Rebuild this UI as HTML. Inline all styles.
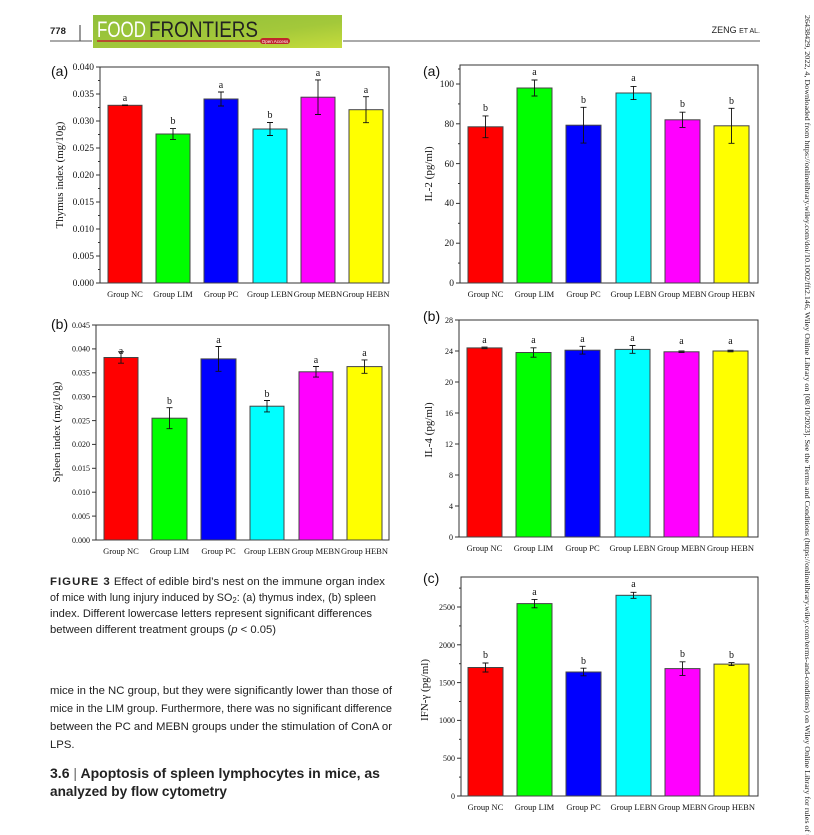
<!DOCTYPE html>
<html><head><meta charset="utf-8"><style>
html,body{margin:0;padding:0;background:#fff;}
svg{display:block;}
.t{font-family:"Liberation Serif",serif;font-size:10px;fill:#111;}
.xl{font-family:"Liberation Serif",serif;font-size:8.5px;fill:#111;text-anchor:middle;}
.yl{font-family:"Liberation Serif",serif;font-size:9.5px;fill:#111;text-anchor:end;}
.lt{font-family:"Liberation Serif",serif;font-size:10px;fill:#111;text-anchor:middle;}
.pl{font-family:"Liberation Sans",sans-serif;font-size:14px;fill:#111;}
.ax{font-family:"Liberation Serif",serif;font-size:11px;fill:#111;text-anchor:middle;}
.bar{stroke:#444;stroke-width:1;}
.e{stroke:#111;stroke-width:0.9;fill:none;}
.fr{fill:none;stroke:#333;stroke-width:1;}
.tk{stroke:#333;stroke-width:1;}
.cap{font-family:"Liberation Sans",sans-serif;font-size:11px;fill:#222;}
.bd{font-family:"Liberation Sans",sans-serif;font-size:11.3px;fill:#222;}
.hd{font-family:"Liberation Sans",sans-serif;font-size:14px;font-weight:bold;fill:#222;}
</style></head><body>
<svg width="814" height="835" viewBox="0 0 814 835" xmlns="http://www.w3.org/2000/svg">
<defs>
<linearGradient id="g" x1="0" y1="0" x2="1" y2="1">
<stop offset="0" stop-color="#8fbf3a"/><stop offset="0.6" stop-color="#a3c83a"/><stop offset="1" stop-color="#c6dc3c"/>
</linearGradient>
</defs>
<!-- header -->
<text x="50" y="34" font-family="Liberation Sans,sans-serif" font-size="9.5px" font-weight="bold" fill="#222">778</text>
<line x1="80" y1="25" x2="80" y2="41" stroke="#333" stroke-width="1"/>
<line x1="50" y1="41" x2="92" y2="41" stroke="#555" stroke-width="1"/>
<rect x="93" y="15" width="249" height="33" fill="url(#g)"/>
<text x="97" y="37" font-family="Liberation Sans,sans-serif" font-size="22px" fill="#fff" textLength="49" lengthAdjust="spacingAndGlyphs">FOOD</text>
<text x="149" y="37" font-family="Liberation Sans,sans-serif" font-size="22px" fill="#222" textLength="109" lengthAdjust="spacingAndGlyphs">FRONTIERS</text>
<line x1="97" y1="41" x2="262" y2="41" stroke="#c0262c" stroke-width="1.6"/>
<rect x="260" y="38" width="30" height="6" rx="3" fill="#c0262c"/>
<text x="275" y="43" font-family="Liberation Sans,sans-serif" font-size="4.5px" fill="#fff" text-anchor="middle">Open Access</text>
<line x1="343" y1="41" x2="760" y2="41" stroke="#555" stroke-width="1"/>
<text x="760" y="33" font-family="Liberation Sans,sans-serif" font-size="9px" fill="#222" text-anchor="end">ZENG <tspan font-size="7px">ET AL.</tspan></text>
<!-- sidebar -->
<text transform="translate(805,15) rotate(90)" font-family="Liberation Serif,serif" font-size="7.3px" fill="#222" textLength="830" lengthAdjust="spacingAndGlyphs">26438429, 2022, 4, Downloaded from https://onlinelibrary.wiley.com/doi/10.1002/fft2.146, Wiley Online Library on [08/10/2023]. See the Terms and Conditions (https://onlinelibrary.wiley.com/terms-and-conditions) on Wiley Online Library for rules of use</text>

<!-- Chart A thymus -->
<g>
<text class="pl" x="51" y="76">(a)</text>
<rect class="fr" x="100" y="67" width="289" height="216"/>
<g class="tk">
<line x1="96" y1="283" x2="100" y2="283"/><line x1="96" y1="256" x2="100" y2="256"/><line x1="96" y1="229" x2="100" y2="229"/><line x1="96" y1="202" x2="100" y2="202"/><line x1="96" y1="175" x2="100" y2="175"/><line x1="96" y1="148" x2="100" y2="148"/><line x1="96" y1="121" x2="100" y2="121"/><line x1="96" y1="94" x2="100" y2="94"/><line x1="96" y1="67" x2="100" y2="67"/>
<line x1="98" y1="269.5" x2="100" y2="269.5"/><line x1="98" y1="242.5" x2="100" y2="242.5"/><line x1="98" y1="215.5" x2="100" y2="215.5"/><line x1="98" y1="188.5" x2="100" y2="188.5"/><line x1="98" y1="161.5" x2="100" y2="161.5"/><line x1="98" y1="134.5" x2="100" y2="134.5"/><line x1="98" y1="107.5" x2="100" y2="107.5"/><line x1="98" y1="80.5" x2="100" y2="80.5"/>
</g>
<text class="yl" x="94" y="286">0.000</text><text class="yl" x="94" y="259">0.005</text><text class="yl" x="94" y="232">0.010</text><text class="yl" x="94" y="205">0.015</text><text class="yl" x="94" y="178">0.020</text><text class="yl" x="94" y="151">0.025</text><text class="yl" x="94" y="124">0.030</text><text class="yl" x="94" y="97">0.035</text><text class="yl" x="94" y="70">0.040</text>
<text class="ax" transform="translate(63,175) rotate(-90)">Thymus index (mg/10g)</text>
<rect class="bar" x="108" y="105.3" width="34" height="177.7" fill="#ff0000"/>
<rect class="bar" x="156" y="134" width="34" height="149" fill="#00ff00"/>
<rect class="bar" x="204" y="99" width="34" height="184" fill="#0000ff"/>
<rect class="bar" x="253" y="129" width="34" height="154" fill="#00ffff"/>
<rect class="bar" x="301" y="97.2" width="34" height="185.8" fill="#ff00ff"/>
<rect class="bar" x="349" y="109.7" width="34" height="173.3" fill="#ffff00"/>
<path class="e" d="M122 105h6M125 105v0.5M122 105.6h6 M170 128.6h6M173 128.6v10.8M170 139.4h6 M218 92h6M221 92v14M218 106h6 M267 122.5h6M270 122.5v13M267 135.5h6 M315 79.9h6M318 79.9v34.6M315 114.5h6 M363 96.7h6M366 96.7v26M363 122.7h6"/>
<text class="lt" x="125" y="101">a</text><text class="lt" x="173" y="124">b</text><text class="lt" x="221" y="88">a</text><text class="lt" x="270" y="118">b</text><text class="lt" x="318" y="76">a</text><text class="lt" x="366" y="93">a</text>
<text class="xl" x="125" y="297">Group NC</text><text class="xl" x="173" y="297">Group LIM</text><text class="xl" x="221" y="297">Group PC</text><text class="xl" x="270" y="297">Group LEBN</text><text class="xl" x="318" y="297">Group MEBN</text><text class="xl" x="366" y="297">Group HEBN</text>
</g>

<!-- Chart B spleen -->
<g>
<text class="pl" x="51" y="329">(b)</text>
<rect class="fr" x="96" y="325" width="293" height="215"/>
<g class="tk">
<line x1="92" y1="540" x2="96" y2="540"/><line x1="92" y1="516.1" x2="96" y2="516.1"/><line x1="92" y1="492.2" x2="96" y2="492.2"/><line x1="92" y1="468.3" x2="96" y2="468.3"/><line x1="92" y1="444.4" x2="96" y2="444.4"/><line x1="92" y1="420.6" x2="96" y2="420.6"/><line x1="92" y1="396.7" x2="96" y2="396.7"/><line x1="92" y1="372.8" x2="96" y2="372.8"/><line x1="92" y1="348.9" x2="96" y2="348.9"/><line x1="92" y1="325" x2="96" y2="325"/>
</g>
<g font-size="8px"><text class="yl" x="90" y="543" style="font-size:8px">0.000</text><text class="yl" x="90" y="519" style="font-size:8px">0.005</text><text class="yl" x="90" y="495" style="font-size:8px">0.010</text><text class="yl" x="90" y="471" style="font-size:8px">0.015</text><text class="yl" x="90" y="447" style="font-size:8px">0.020</text><text class="yl" x="90" y="423.5" style="font-size:8px">0.025</text><text class="yl" x="90" y="399.5" style="font-size:8px">0.030</text><text class="yl" x="90" y="375.5" style="font-size:8px">0.035</text><text class="yl" x="90" y="351.5" style="font-size:8px">0.040</text><text class="yl" x="90" y="328" style="font-size:8px">0.045</text></g>
<text class="ax" transform="translate(60,432) rotate(-90)">Spleen index (mg/10g)</text>
<rect class="bar" x="104" y="357.5" width="34" height="182.5" fill="#ff0000"/>
<rect class="bar" x="152" y="418.2" width="35" height="121.8" fill="#00ff00"/>
<rect class="bar" x="201" y="358.9" width="35" height="181.1" fill="#0000ff"/>
<rect class="bar" x="250" y="406.2" width="34" height="133.8" fill="#00ffff"/>
<rect class="bar" x="299" y="371.8" width="34" height="168.2" fill="#ff00ff"/>
<rect class="bar" x="347" y="366.6" width="35" height="173.4" fill="#ffff00"/>
<path class="e" d="M118 351.8h6M121 351.8v11.4M118 363.2h6 M166.5 407.7h6M169.5 407.7v21M166.5 428.7h6 M215.5 346.5h6M218.5 346.5v24.8M215.5 371.3h6 M264 400.5h6M267 400.5v11.4M264 411.9h6 M313 366.5h6M316 366.5v10.6M313 377.1h6 M361.5 359.9h6M364.5 359.9v13.4M361.5 373.3h6"/>
<text class="lt" x="121" y="354">a</text><text class="lt" x="169.5" y="404">b</text><text class="lt" x="218.5" y="343">a</text><text class="lt" x="267" y="397">b</text><text class="lt" x="316" y="363">a</text><text class="lt" x="364.5" y="356">a</text>
<text class="xl" x="121" y="554">Group NC</text><text class="xl" x="169.5" y="554">Group LIM</text><text class="xl" x="218.5" y="554">Group PC</text><text class="xl" x="267" y="554">Group LEBN</text><text class="xl" x="316" y="554">Group MEBN</text><text class="xl" x="364.5" y="554">Group HEBN</text>
</g>

<!-- Right a IL-2 -->
<g>
<text class="pl" x="423" y="76">(a)</text>
<rect class="fr" x="460" y="65" width="298" height="218"/>
<g class="tk">
<line x1="456" y1="283" x2="460" y2="283"/><line x1="456" y1="243.2" x2="460" y2="243.2"/><line x1="456" y1="203.4" x2="460" y2="203.4"/><line x1="456" y1="163.6" x2="460" y2="163.6"/><line x1="456" y1="123.8" x2="460" y2="123.8"/><line x1="456" y1="84" x2="460" y2="84"/>
<line x1="458" y1="263.1" x2="460" y2="263.1"/><line x1="458" y1="223.3" x2="460" y2="223.3"/><line x1="458" y1="183.5" x2="460" y2="183.5"/><line x1="458" y1="143.7" x2="460" y2="143.7"/><line x1="458" y1="103.9" x2="460" y2="103.9"/><line x1="458" y1="69" x2="460" y2="69"/>
</g>
<text class="yl" x="454" y="286">0</text><text class="yl" x="454" y="246">20</text><text class="yl" x="454" y="206">40</text><text class="yl" x="454" y="167">60</text><text class="yl" x="454" y="127">80</text><text class="yl" x="454" y="87">100</text>
<text class="ax" transform="translate(432,174) rotate(-90)">IL-2 (pg/ml)</text>
<rect class="bar" x="468" y="126.8" width="35" height="156.2" fill="#ff0000"/>
<rect class="bar" x="517" y="88" width="35" height="195" fill="#00ff00"/>
<rect class="bar" x="566" y="125.2" width="35" height="157.8" fill="#0000ff"/>
<rect class="bar" x="616" y="93" width="35" height="190" fill="#00ffff"/>
<rect class="bar" x="665" y="119.8" width="35" height="163.2" fill="#ff00ff"/>
<rect class="bar" x="714" y="125.8" width="35" height="157.2" fill="#ffff00"/>
<path class="e" d="M482.5 115.9h6M485.5 115.9v21.8M482.5 137.7h6 M531.5 80h6M534.5 80v16M531.5 96h6 M580.5 107.3h6M583.5 107.3v35.8M580.5 143.1h6 M630.5 86.4h6M633.5 86.4v13.2M630.5 99.6h6 M679.5 112.2h6M682.5 112.2v15.2M679.5 127.4h6 M728.5 108.3h6M731.5 108.3v35M728.5 143.3h6"/>
<text class="lt" x="485.5" y="111">b</text><text class="lt" x="534.5" y="75">a</text><text class="lt" x="583.5" y="103">b</text><text class="lt" x="633.5" y="81">a</text><text class="lt" x="682.5" y="107">b</text><text class="lt" x="731.5" y="104">b</text>
<text class="xl" x="485.5" y="297">Group NC</text><text class="xl" x="534.5" y="297">Group LIM</text><text class="xl" x="583.5" y="297">Group PC</text><text class="xl" x="633.5" y="297">Group LEBN</text><text class="xl" x="682.5" y="297">Group MEBN</text><text class="xl" x="731.5" y="297">Group HEBN</text>
</g>

<!-- Right b IL-4 -->
<g>
<text class="pl" x="423" y="321">(b)</text>
<rect class="fr" x="459" y="320" width="299" height="217"/>
<g class="tk">
<line x1="455" y1="537" x2="459" y2="537"/><line x1="455" y1="506" x2="459" y2="506"/><line x1="455" y1="475" x2="459" y2="475"/><line x1="455" y1="444" x2="459" y2="444"/><line x1="455" y1="413" x2="459" y2="413"/><line x1="455" y1="382" x2="459" y2="382"/><line x1="455" y1="351" x2="459" y2="351"/><line x1="455" y1="320" x2="459" y2="320"/>
</g>
<g><text class="yl" x="453" y="540" style="font-size:8px">0</text><text class="yl" x="453" y="509" style="font-size:8px">4</text><text class="yl" x="453" y="478" style="font-size:8px">8</text><text class="yl" x="453" y="447" style="font-size:8px">12</text><text class="yl" x="453" y="416" style="font-size:8px">16</text><text class="yl" x="453" y="385" style="font-size:8px">20</text><text class="yl" x="453" y="354" style="font-size:8px">24</text><text class="yl" x="453" y="323" style="font-size:8px">28</text></g>
<text class="ax" transform="translate(432,430) rotate(-90)">IL-4 (pg/ml)</text>
<rect class="bar" x="467" y="347.9" width="35" height="189.1" fill="#ff0000"/>
<rect class="bar" x="516" y="352.5" width="35" height="184.5" fill="#00ff00"/>
<rect class="bar" x="565" y="350.2" width="35" height="186.8" fill="#0000ff"/>
<rect class="bar" x="615" y="349.4" width="35" height="187.6" fill="#00ffff"/>
<rect class="bar" x="664" y="351.8" width="35" height="185.2" fill="#ff00ff"/>
<rect class="bar" x="713" y="351" width="35" height="186" fill="#ffff00"/>
<path class="e" d="M481.5 347.1h6M481.5 348.7h6 M530.5 347.8h6M533.5 347.8v9.4M530.5 357.2h6 M579.5 346.3h6M582.5 346.3v7.8M579.5 354.1h6 M629.5 345.5h6M632.5 345.5v7.8M629.5 353.3h6 M678.5 351h6M678.5 352.6h6 M727.5 350.2h6M727.5 351.8h6"/>
<text class="lt" x="484.5" y="343">a</text><text class="lt" x="533.5" y="343">a</text><text class="lt" x="582.5" y="342">a</text><text class="lt" x="632.5" y="341">a</text><text class="lt" x="681.5" y="344">a</text><text class="lt" x="730.5" y="344">a</text>
<text class="xl" x="484.5" y="551">Group NC</text><text class="xl" x="533.5" y="551">Group LIM</text><text class="xl" x="582.5" y="551">Group PC</text><text class="xl" x="632.5" y="551">Group LEBN</text><text class="xl" x="681.5" y="551">Group MEBN</text><text class="xl" x="730.5" y="551">Group HEBN</text>
</g>

<!-- Right c IFN -->
<g>
<text class="pl" x="423" y="583">(c)</text>
<rect class="fr" x="461" y="577" width="297" height="219"/>
<g class="tk">
<line x1="457" y1="796" x2="461" y2="796"/><line x1="457" y1="758.2" x2="461" y2="758.2"/><line x1="457" y1="720.4" x2="461" y2="720.4"/><line x1="457" y1="682.6" x2="461" y2="682.6"/><line x1="457" y1="644.8" x2="461" y2="644.8"/><line x1="457" y1="607" x2="461" y2="607"/>
<line x1="459" y1="777.1" x2="461" y2="777.1"/><line x1="459" y1="739.3" x2="461" y2="739.3"/><line x1="459" y1="701.5" x2="461" y2="701.5"/><line x1="459" y1="663.7" x2="461" y2="663.7"/><line x1="459" y1="625.9" x2="461" y2="625.9"/><line x1="459" y1="588.1" x2="461" y2="588.1"/>
</g>
<g><text class="yl" x="455" y="799" style="font-size:8px">0</text><text class="yl" x="455" y="761" style="font-size:8px">500</text><text class="yl" x="455" y="723" style="font-size:8px">1000</text><text class="yl" x="455" y="685.5" style="font-size:8px">1500</text><text class="yl" x="455" y="648" style="font-size:8px">2000</text><text class="yl" x="455" y="610" style="font-size:8px">2500</text></g>
<text class="ax" transform="translate(428,690) rotate(-90)">IFN-γ (pg/ml)</text>
<rect class="bar" x="468" y="667.5" width="35" height="128.5" fill="#ff0000"/>
<rect class="bar" x="517" y="603.6" width="35" height="192.4" fill="#00ff00"/>
<rect class="bar" x="566" y="672" width="35" height="124" fill="#0000ff"/>
<rect class="bar" x="616" y="595.3" width="35" height="200.7" fill="#00ffff"/>
<rect class="bar" x="665" y="668.6" width="35" height="127.4" fill="#ff00ff"/>
<rect class="bar" x="714" y="664.1" width="35" height="131.9" fill="#ffff00"/>
<path class="e" d="M482.5 663h6M485.5 663v9M482.5 672h6 M531.5 599.4h6M534.5 599.4v8.4M531.5 607.8h6 M580.5 668.2h6M583.5 668.2v7.6M580.5 675.8h6 M630.5 592.3h6M633.5 592.3v6M630.5 598.3h6 M679.5 661.8h6M682.5 661.8v13.6M679.5 675.4h6 M728.5 662.6h6M731.5 662.6v3M728.5 665.6h6"/>
<text class="lt" x="485.5" y="658">b</text><text class="lt" x="534.5" y="595">a</text><text class="lt" x="583.5" y="664">b</text><text class="lt" x="633.5" y="587">a</text><text class="lt" x="682.5" y="657">b</text><text class="lt" x="731.5" y="658">b</text>
<text class="xl" x="485.5" y="810">Group NC</text><text class="xl" x="534.5" y="810">Group LIM</text><text class="xl" x="583.5" y="810">Group PC</text><text class="xl" x="633.5" y="810">Group LEBN</text><text class="xl" x="682.5" y="810">Group MEBN</text><text class="xl" x="731.5" y="810">Group HEBN</text>
</g>

<!-- caption -->
<text class="cap" x="50" y="585" textLength="335" lengthAdjust="spacingAndGlyphs"><tspan font-weight="bold" letter-spacing="1">FIGURE 3</tspan>    Effect of edible bird’s nest on the immune organ index</text>
<text class="cap" x="50" y="601" textLength="326" lengthAdjust="spacingAndGlyphs">of mice with lung injury induced by SO<tspan font-size="8px" dy="2">2</tspan><tspan dy="-2">: (a) thymus index, (b) spleen</tspan></text>
<text class="cap" x="50" y="617" textLength="322" lengthAdjust="spacingAndGlyphs">index. Different lowercase letters represent significant differences</text>
<text class="cap" x="50" y="633" textLength="226" lengthAdjust="spacingAndGlyphs">between different treatment groups (<tspan font-style="italic">p</tspan> &lt; 0.05)</text>
<!-- body -->
<text class="bd" x="50" y="694" textLength="342" lengthAdjust="spacingAndGlyphs">mice in the NC group, but they were significantly lower than those of</text>
<text class="bd" x="50" y="712" textLength="342" lengthAdjust="spacingAndGlyphs">mice in the LIM group. Furthermore, there was no significant difference</text>
<text class="bd" x="50" y="730" textLength="342" lengthAdjust="spacingAndGlyphs">between the PC and MEBN groups under the stimulation of ConA or</text>
<text class="bd" x="50" y="748">LPS.</text>
<!-- heading -->
<text class="hd" x="50" y="778" textLength="330" lengthAdjust="spacingAndGlyphs">3.6  <tspan font-weight="normal" fill="#666">|</tspan>  Apoptosis of spleen lymphocytes in mice, as</text>
<text class="hd" x="50" y="796" textLength="177" lengthAdjust="spacingAndGlyphs">analyzed by flow cytometry</text>
</svg>
</body></html>
